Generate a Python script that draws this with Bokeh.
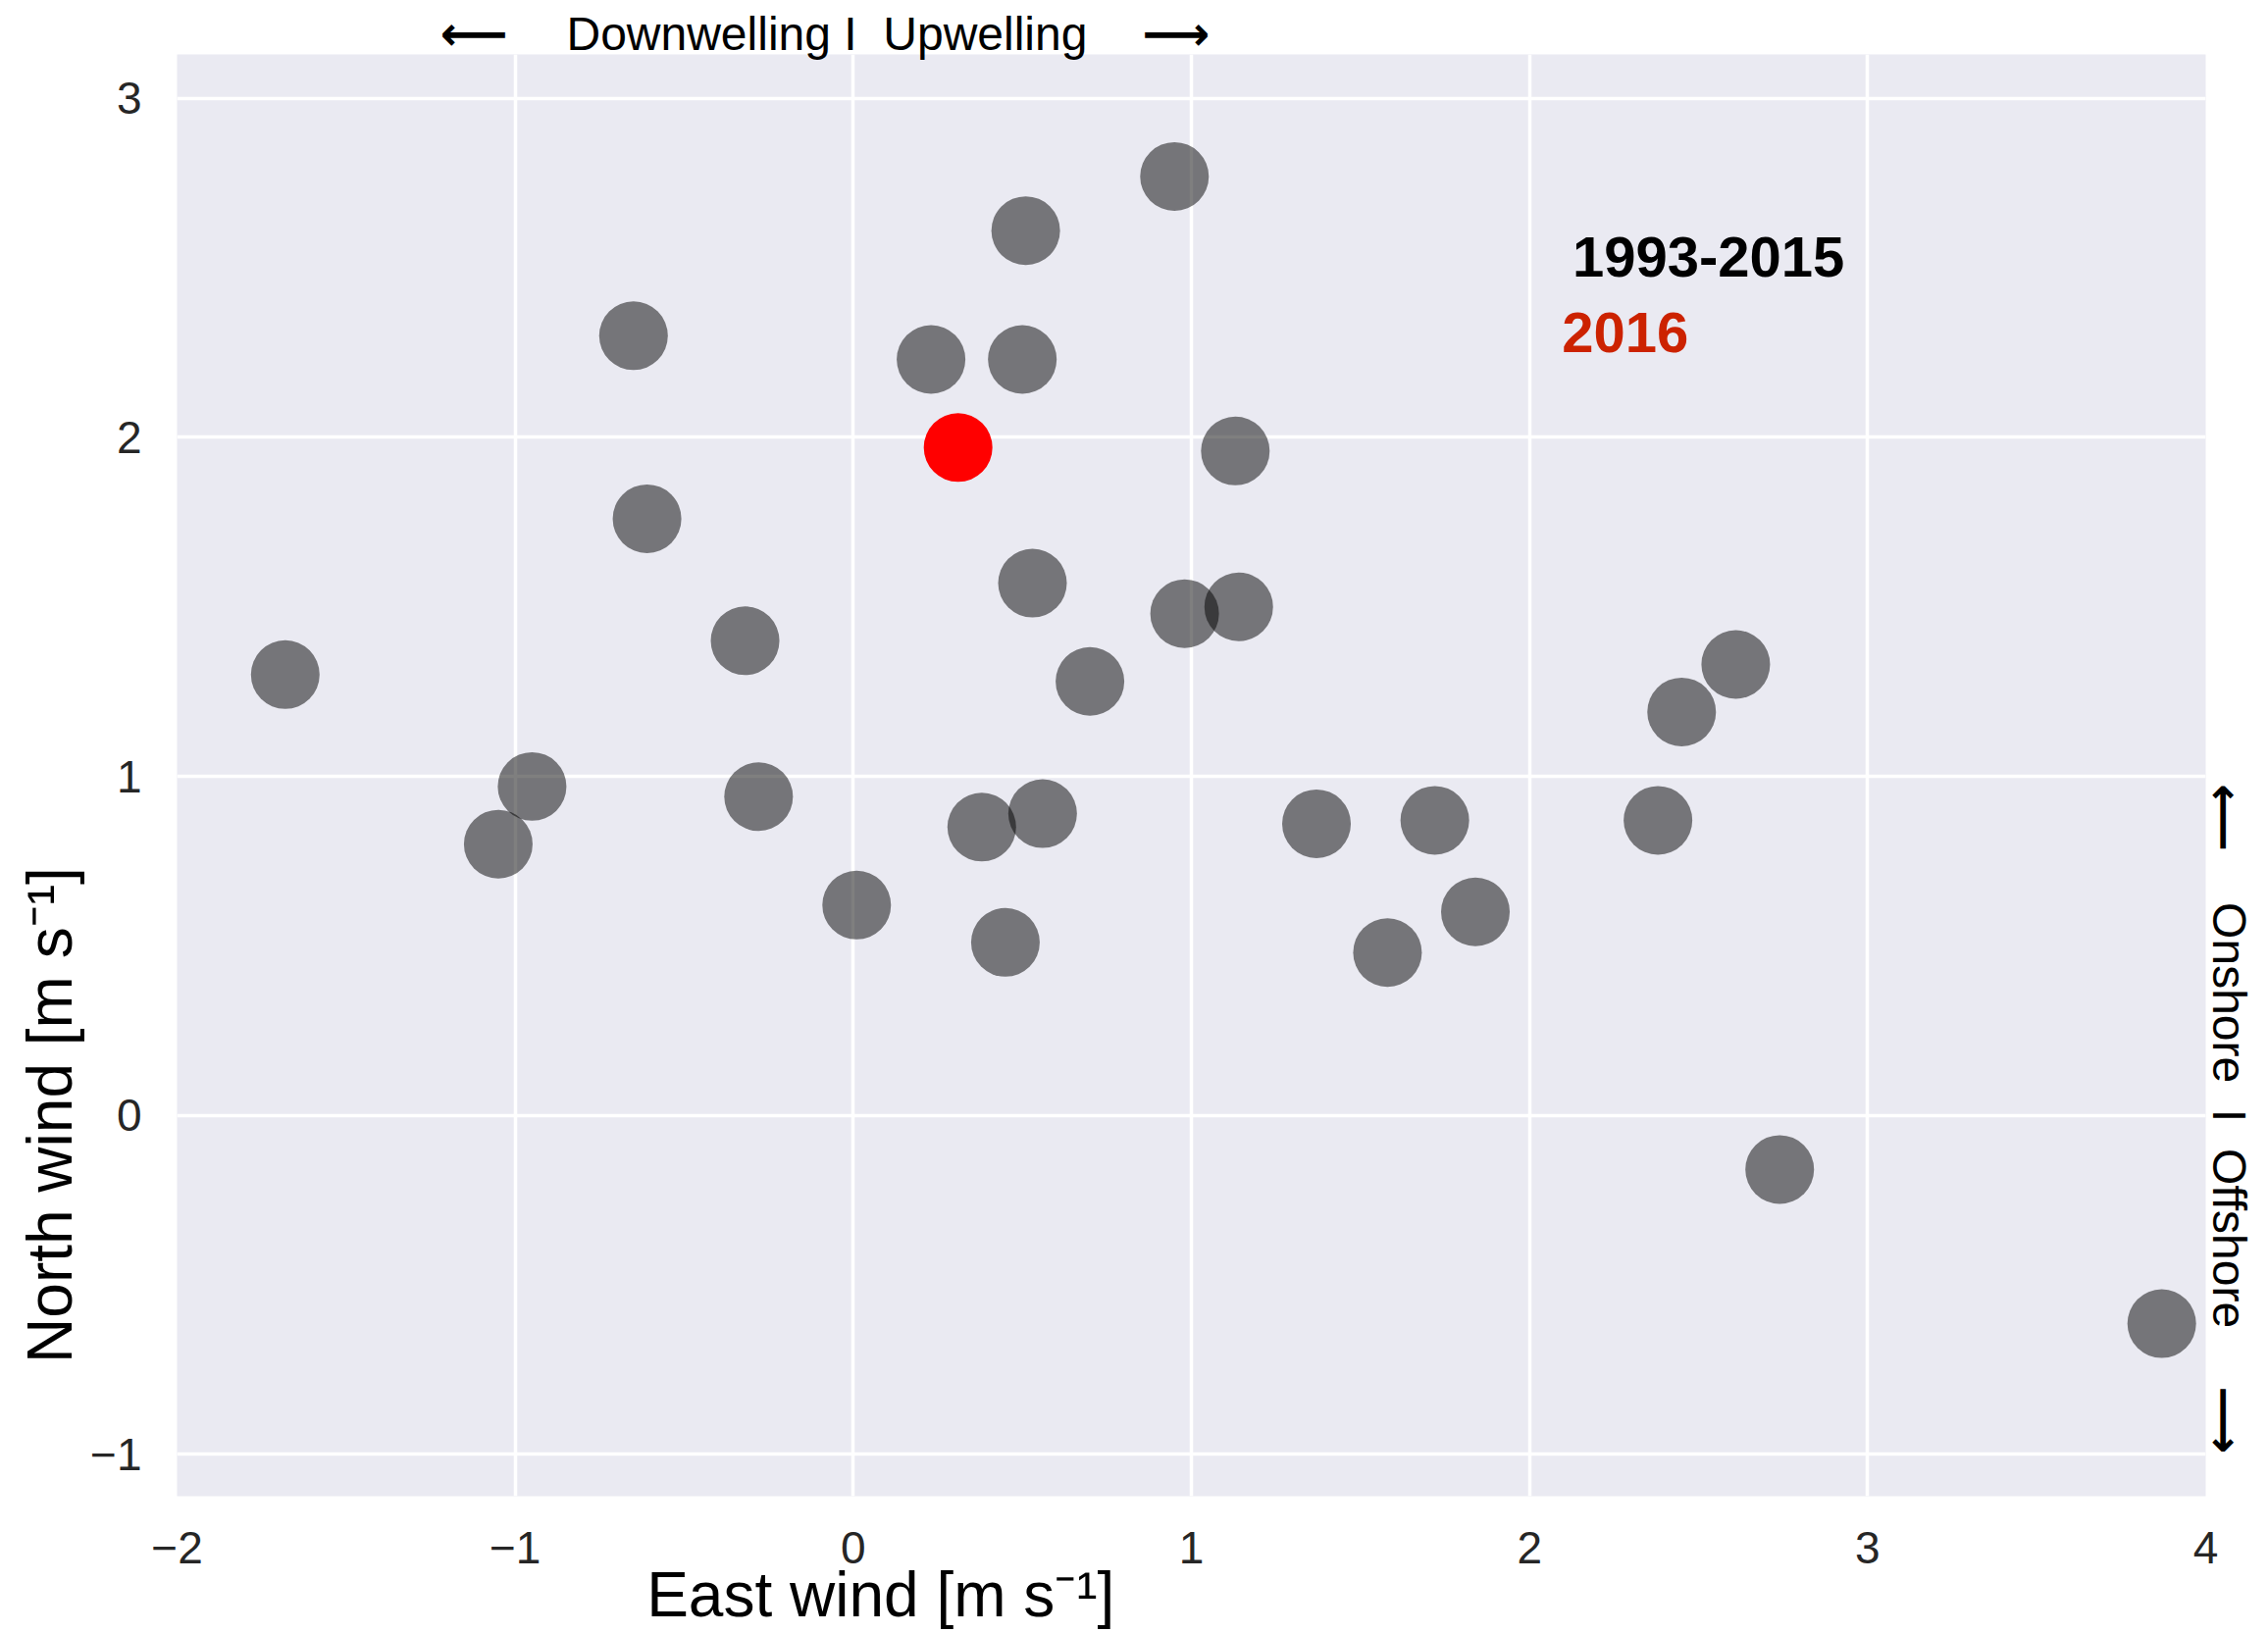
from bokeh.plotting import figure
from bokeh.models import Label, FixedTicker, LinearAxis
from bokeh.embed import file_html
from bokeh.resources import INLINE

# ---- data ----
east_wind = [-1.68, -1.05, -0.95, -0.65, -0.61, -0.32, -0.28, 0.01, 0.23, 0.51,
             0.50, 0.95, 1.13, 0.53, 0.98, 1.14, 0.70, 0.38, 0.56, 0.45,
             1.37, 1.58, 1.72, 1.84, 2.38, 2.45, 2.61, 2.74, 3.87]
north_wind = [1.30, 0.80, 0.97, 2.30, 1.76, 1.40, 0.94, 0.62, 2.23, 2.61,
              2.23, 2.77, 1.96, 1.57, 1.48, 1.50, 1.28, 0.85, 0.89, 0.51,
              0.86, 0.48, 0.87, 0.60, 0.87, 1.19, 1.33, -0.16, -0.615]
east_2016 = [0.31]
north_2016 = [1.97]
x_ticks = [-2, -1, 0, 1, 2, 3, 4]
y_ticks = [-1, 0, 1, 2, 3]
legend_labels = ["1993-2015", "2016"]

x_title = "East wind [m s\u207b\u00b9]"
y_title = "North wind [m s\u207b\u00b9]"
top_text = ["Downwelling I\u00a0\u00a0Upwelling"]
top_text_pos = [-0.078]
top_arrows = ["\u27f5", "\u27f6"]
top_arrow_pos = [-1.122, 0.954]
right_text = ["Onshore\u00a0\u00a0I\u00a0\u00a0Offshore"]
right_text_pos = [0.0]
right_arrows = ["\u27f5", "\u27f6"]
right_arrow_pos = [0.878, -0.899]

FONT = "Liberation Sans"

p = figure(width=2312, height=1665, output_backend="svg", toolbar_location=None,
           title=None,
           x_range=(-2.0, 4.0), y_range=(-1.124, 3.130),
           min_border_left=180, min_border_right=64, min_border_top=55, min_border_bottom=140,
           background_fill_color="#EAEAF2", border_fill_color="white")
p.outline_line_color = None

main_x = p.xaxis[0]
main_y = p.yaxis[0]
main_x.ticker = FixedTicker(ticks=x_ticks)
main_y.ticker = FixedTicker(ticks=y_ticks)
main_x.major_label_overrides = {t: str(t).replace("-", "\u2212") for t in x_ticks}
main_y.major_label_overrides = {t: str(t).replace("-", "\u2212") for t in y_ticks}
for ax in (main_x, main_y):
    ax.axis_line_color = None
    ax.major_tick_line_color = None
    ax.minor_tick_line_color = None
    ax.major_label_text_font = FONT
    ax.major_label_text_font_size = "46px"
    ax.major_label_text_color = "#262626"
main_x.major_label_standoff = 30
main_y.major_label_standoff = 30

p.grid.grid_line_color = "white"
p.grid.grid_line_width = 3.5


def text_axis(side, ticks, labels, size, standoff, orientation="horizontal",
              style="normal", font=FONT):
    ax = LinearAxis(ticker=FixedTicker(ticks=ticks),
                    major_label_overrides=dict(zip(ticks, labels)),
                    axis_line_color=None, major_tick_line_color=None,
                    minor_tick_line_color=None,
                    major_label_text_font=font, major_label_text_font_size=size,
                    major_label_text_font_style=style,
                    major_label_text_color="black", major_label_standoff=standoff,
                    major_label_orientation=orientation)
    p.add_layout(ax, side)
    return ax


# axis titles and side annotations carried as axis labels outside the frame
text_axis("below", [0.081], [x_title], "64px", -13)
text_axis("left", [0.0], [y_title], "64px", -3, "parallel")
text_axis("above", top_text_pos, top_text, "48px", -11)
text_axis("above", top_arrow_pos, top_arrows, "48px", -63, style="bold", font="DejaVu Sans")
text_axis("right", right_text_pos, right_text, "48px", -9, "parallel")
text_axis("right", right_arrow_pos, right_arrows, "48px", -68, "parallel", style="bold",
          font="DejaVu Sans")

p.scatter(east_wind, north_wind, size=70, fill_color="black", fill_alpha=0.5,
          line_color=None)
p.scatter(east_2016, north_2016, size=70, fill_color="#FF0000", line_color=None)

# legend-like texts
p.add_layout(Label(x=2.127, y=2.475, text=legend_labels[0], text_font=FONT,
                   text_font_size="58px", text_font_style="bold", text_color="black"))
p.add_layout(Label(x=2.096, y=2.253, text=legend_labels[1], text_font=FONT,
                   text_font_size="58px", text_font_style="bold", text_color="#CC2200"))

open("out.html", "w").write(file_html(p, INLINE))
